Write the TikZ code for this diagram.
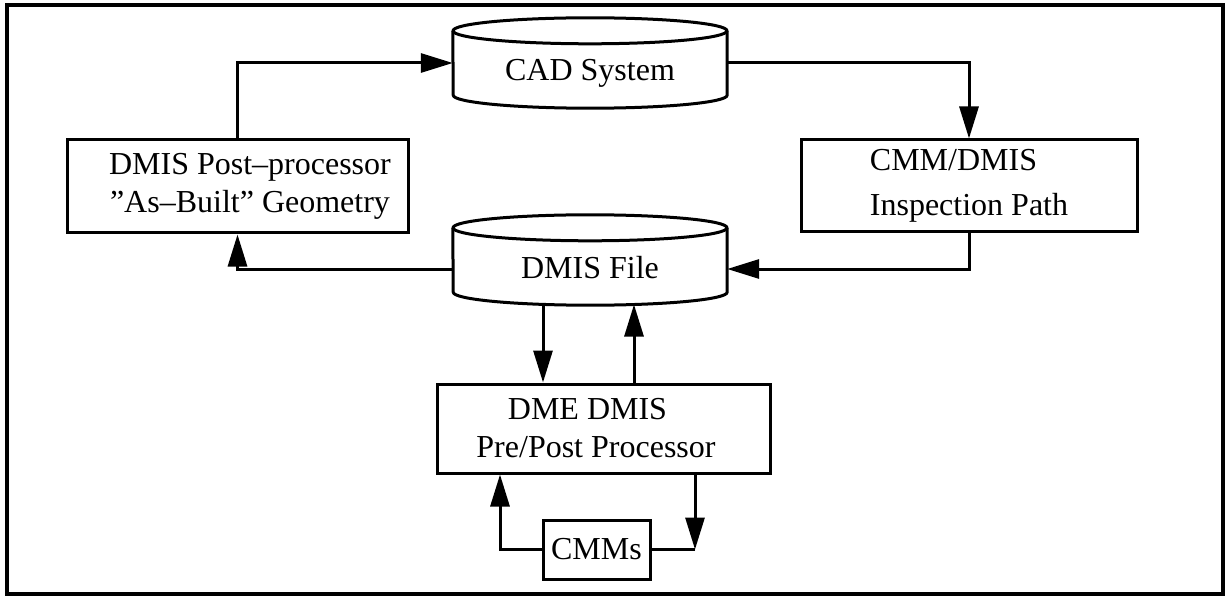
\documentclass[tikz,border=0pt]{standalone}
\usepackage{fontspec}
\setmainfont{Liberation Serif}
\usetikzlibrary{arrows.meta,calc}

% drum outline (storage symbol) around a node whose box is the drum body
\newcommand\drumoutline[1]{%
  \draw[drumline] (#1.north east) -- (#1.south east)
     arc[start angle=0,end angle=-180,x radius=137pt,y radius=13pt]
     -- (#1.north west);
  \draw[drumline] (#1.north) ellipse[x radius=137pt,y radius=13pt];
}

\tikzset{
  txt/.style={font=\fontsize{32}{38}\selectfont},
  box/.style={txt, draw, line width=3pt, inner xsep=0pt, inner ysep=0pt},
  drum/.style={txt, inner sep=0pt, minimum width=274pt,
               text height=50pt, text depth=14pt},
  drumline/.style={line width=3pt, line join=round},
  conn/.style={line width=3pt},
  tip/.style={-{Triangle[length=32pt,width=19pt]}},
}

\begin{document}
\begin{tikzpicture}[x=1pt,y=-1pt]
  \useasboundingbox (0,0) rectangle (1226,596);
  \draw[line width=3.5pt] (7,5) rectangle (1223,594);

  % storage drums
  \node[drum] (cad)  at (590,63)  {CAD System};
  \node[drum] (dmis) at (590,260) {DMIS File};
  \drumoutline{cad}
  \drumoutline{dmis}

  % processing boxes
  \node[box, minimum width=341pt, minimum height=93pt, align=center] (post)
    at (237.5,186.5) {\hspace*{25pt}DMIS Post–processor\\\hspace*{25pt}”As–Built” Geometry};
  \node[box, minimum width=336pt, minimum height=92pt, align=left] (cmm)
    at (969,186) {CMM/DMIS\\[7pt]Inspection Path};
  \node[box, minimum width=333pt, minimum height=89pt, align=center] (dme)
    at (603.5,428.5) {DME DMIS\hspace*{32pt}\\Pre/Post Processor\hspace*{15pt}};
  \node[box, minimum width=107pt, minimum height=59pt] (cmms)
    at (596.5,549.5) {CMMs};

  % attachment points
  \coordinate (dmisL) at ([yshift=-9pt]dmis.west);
  \coordinate (dmisR) at ([yshift=-9pt]dmis.east);
  \coordinate (dmisA) at ([xshift=-47pt,yshift=-12.2pt]dmis.south);
  \coordinate (dmisB) at ([xshift=44pt,yshift=-12.3pt]dmis.south);
  \coordinate (cl) at (500,0);
  \coordinate (cr) at (695,0);

  % data flow
  \draw[conn,tip] (post.north) |- (cad.west);
  \draw[conn,tip] (cad.east) -| (cmm.north);
  \draw[conn,tip] (cmm.south) |- (dmisR);
  \draw[conn,tip] (dmisL) -| (post.south);
  \draw[conn,tip] (dmisA) -- (dmisA |- dme.north);
  \draw[conn,tip] (dmisB |- dme.north) -- (dmisB);
  \draw[conn,tip] (cmms.west) -| (cl |- dme.south);
  \draw[conn,tip] (cr |- dme.south) -- (cr |- cmms.east);
  \draw[conn] (cr |- cmms.east) -- (cmms.east);
\end{tikzpicture}
\end{document}
